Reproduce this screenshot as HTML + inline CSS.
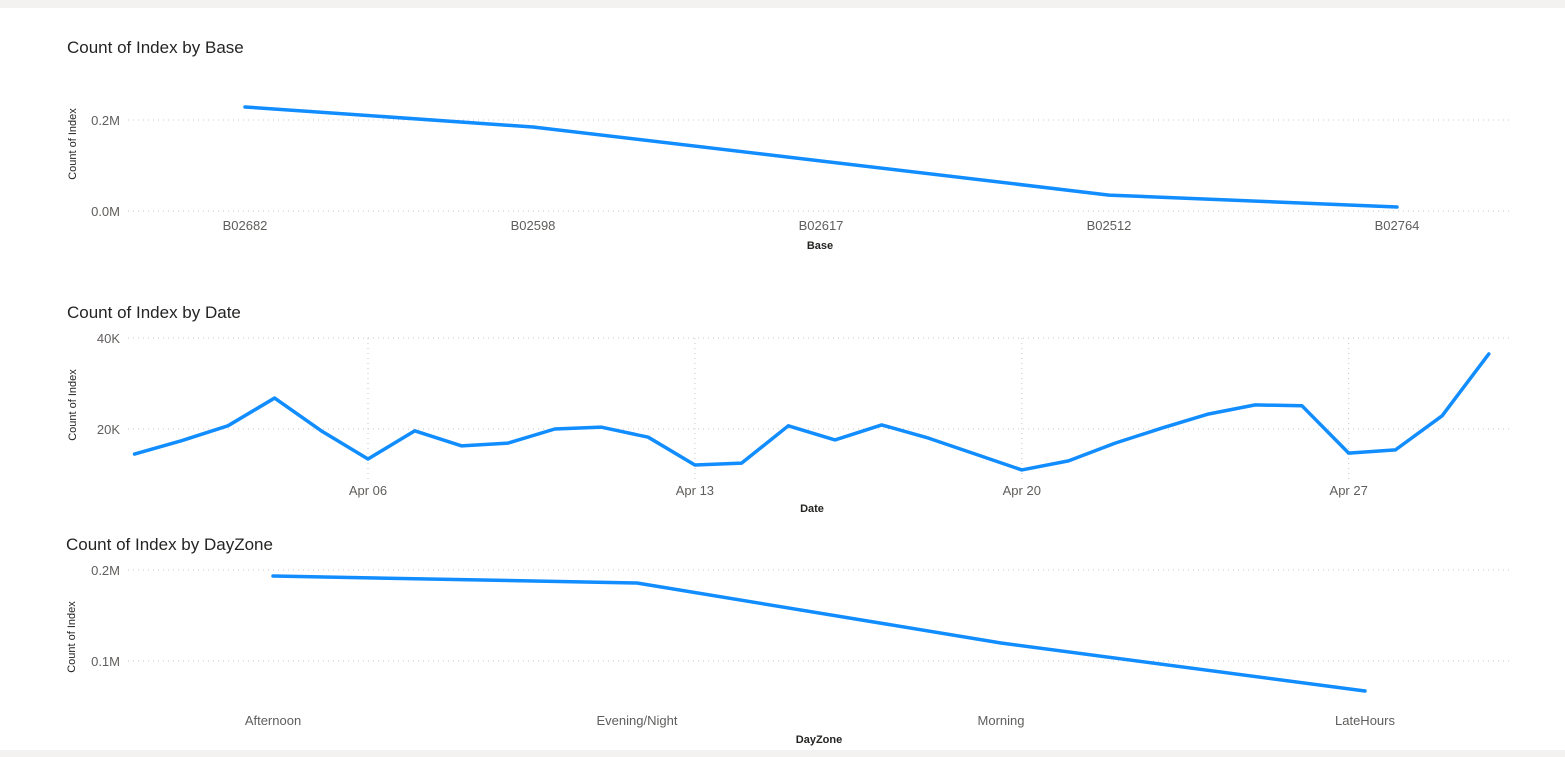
<!DOCTYPE html>
<html><head><meta charset="utf-8"><style>
body{margin:0;width:1565px;height:757px;background:#f3f2f1;overflow:hidden;font-family:"Liberation Sans",sans-serif}
#card{position:absolute;left:0;top:8px;width:1565px;height:742px;background:#fff}
svg text{font-family:"Liberation Sans",sans-serif}
</style></head><body>
<div id="card"></div>
<svg id="s" width="1565" height="757" style="position:absolute;left:0;top:0"></svg>
<script>
const baseCats=["B02682","B02598","B02617","B02512","B02764"];
const baseVals=[228.6,184.6,110,35,8.8];
const baseTicks=[0,200];
const baseTickLabels=["0.0M","0.2M"];
const dateVals=[14.5,17.4,20.7,26.8,19.6,13.4,19.6,16.3,16.9,20.0,20.4,18.2,12.1,12.5,20.7,17.6,20.9,18.0,14.5,11.0,13.0,16.9,20.2,23.3,25.3,25.1,14.7,15.4,22.9,36.5];
const dateTickDays=[6,13,20,27];
const dateTickLabels=["Apr 06","Apr 13","Apr 20","Apr 27"];
const dateTicks=[20,40];
const dateTickTexts=["20K","40K"];
const zoneCats=["Afternoon","Evening/Night","Morning","LateHours"];
const zoneVals=[193.4,185.7,119.8,67];
const zoneTicks=[100,200];
const zoneTickLabels=["0.1M","0.2M"];

const NS="http://www.w3.org/2000/svg";
const svg=document.getElementById('s');
function mk(tag,attrs,txt){const e=document.createElementNS(NS,tag);for(const k in attrs)e.setAttribute(k,attrs[k]);if(txt!==undefined)e.textContent=txt;svg.appendChild(e);return e;}

function chart(o){
  const t=mk('text',{x:o.tx,y:o.ty,'font-size':17,fill:'#252423'},o.title);
  
  
  const yt=mk('text',{transform:`translate(${o.yax},${o.yay}) rotate(-90)`,'font-size':11,fill:'#252423','text-anchor':'middle'},'Count of Index');
  
  
  o.yticks.forEach((v,i)=>{
    const y=o.ys(v);
    const g=mk('line',{x1:128,x2:1512,y1:y,y2:y,stroke:'#c8c6c4','stroke-dasharray':'1 4'});
    
    
    const l=mk('text',{x:120,y:y+5,'font-size':13,fill:'#605e5c','text-anchor':'end'},o.ylabels[i]);
    
    
  });
  o.xticks.forEach((p,i)=>{
    if(o.vgrid){const g=mk('line',{x1:p,x2:p,y1:o.vgrid[0],y2:o.vgrid[1],stroke:'#c8c6c4','stroke-dasharray':'1 4'});
      
      }
    const l=mk('text',{x:p,y:o.xly,'font-size':13,fill:'#605e5c','text-anchor':'middle'},o.xlabels[i]);
    
    
  });
  const xt=mk('text',{x:o.xax,y:o.xay,'font-size':11,fill:'#252423','text-anchor':'middle','font-weight':'bold'},o.xtitle);
  
  
  const pts=o.vals.map((v,i)=>o.xs(i)+','+o.ys(v)).join(' ');
  const pl=mk('polyline',{points:pts,fill:'none',stroke:'#118dff','stroke-width':3.5,'stroke-linejoin':'round','stroke-linecap':'round'});
  
  
}

chart({key:'base',title:'Count of Index by Base',tx:67,ty:53,yax:76,yay:144,
  ys:v=>211-v*0.455,yticks:baseTicks,ylabels:baseTickLabels,
  xs:i=>245+i*288,vals:baseVals,xticks:baseCats.map((c,i)=>245+i*288),xlabels:baseCats,xly:230,
  xtitle:'Base',xax:820,xay:249});
chart({key:'date',title:'Count of Index by Date',tx:67,ty:318,yax:76,yay:405,
  ys:v=>520-v*4.55,yticks:dateTicks,ylabels:dateTickTexts,
  xs:i=>134.5+i*46.7,vals:dateVals,xticks:dateTickDays.map(d=>134.5+(d-1)*46.7),xlabels:dateTickLabels,xly:495,vgrid:[338,480],
  xtitle:'Date',xax:812,xay:512});
chart({key:'dayzone',title:'Count of Index by DayZone',tx:66,ty:550,yax:75,yay:637,
  ys:v=>752-v*0.91,yticks:zoneTicks,ylabels:zoneTickLabels,
  xs:i=>273+i*364,vals:zoneVals,xticks:zoneCats.map((c,i)=>273+i*364),xlabels:zoneCats,xly:725,
  xtitle:'DayZone',xax:819,xay:743});
</script>
</body></html>
